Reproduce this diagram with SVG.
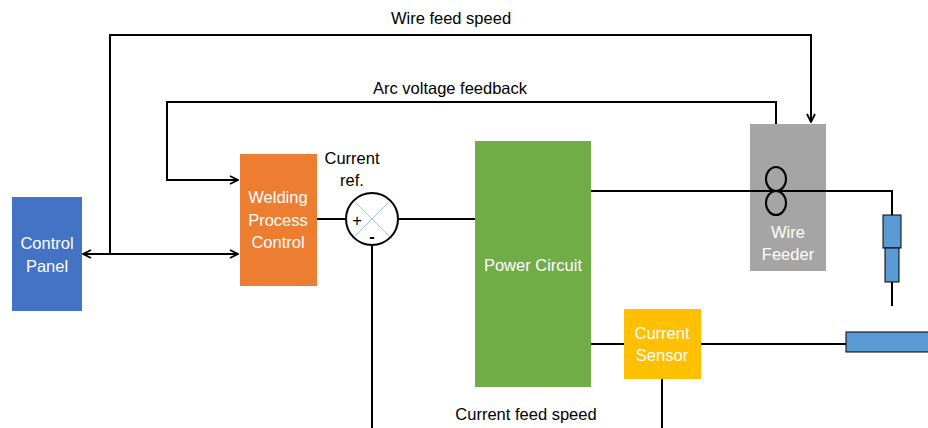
<svg xmlns="http://www.w3.org/2000/svg" width="928" height="428" viewBox="0 0 928 428">
<defs>
<style>
.ln{fill:none;stroke:#000;stroke-width:2}
.t{font-family:"Liberation Sans",Arial,sans-serif;font-size:16.5px;fill:#000;text-anchor:middle}
.w{font-family:"Liberation Sans",Arial,sans-serif;font-size:16.5px;fill:#fff;text-anchor:middle}
</style>
<marker id="ah" viewBox="0 0 10 10" refX="9" refY="5" markerWidth="10" markerHeight="10" markerUnits="userSpaceOnUse" orient="auto-start-reverse">
<path d="M1,1 L9,5 L1,9" fill="none" stroke="#000" stroke-width="1.8"/>
</marker>
</defs>
<rect width="928" height="428" fill="#fff"/>
<g id="connectors">
<polyline class="ln" points="110,254 110,35 811,35 811,122" marker-end="url(#ah)"/>
<polyline class="ln" points="776,167 776,102 167,102 167,180 238,180" marker-end="url(#ah)"/>
<line class="ln" x1="83" y1="254" x2="238" y2="254" marker-start="url(#ah)" marker-end="url(#ah)"/>
<line class="ln" x1="317" y1="219" x2="346" y2="219"/>
<line class="ln" x1="398" y1="219" x2="475" y2="219"/>
<line class="ln" x1="372" y1="245" x2="372" y2="428"/>
<polyline class="ln" points="591,191 892,191 892,215"/>
<line class="ln" x1="892" y1="282" x2="892" y2="306"/>
<line class="ln" x1="591" y1="344" x2="624" y2="344"/>
<line class="ln" x1="701" y1="344" x2="846" y2="344"/>
<line class="ln" x1="662" y1="379" x2="662" y2="428"/>
</g>
<g id="control-panel">
<rect x="12" y="197" width="70" height="114" fill="#4472C4"/>
<text class="w" x="47" y="249">Control</text>
<text class="w" x="47" y="272">Panel</text>
</g>
<g id="welding-process-control">
<rect x="240" y="154" width="77" height="132" fill="#ED7D31"/>
<text class="w" x="278" y="203">Welding</text>
<text class="w" x="278" y="226">Process</text>
<text class="w" x="278" y="248">Control</text>
</g>
<g id="summer">
<circle cx="372" cy="219" r="26" fill="#fff" stroke="#000" stroke-width="2"/>
<line x1="354" y1="201" x2="390" y2="237" stroke="#9DC3E6" stroke-width="1"/>
<line x1="390" y1="201" x2="354" y2="237" stroke="#9DC3E6" stroke-width="1"/>
<text class="t" x="357" y="226" font-size="13">+</text>
<text class="t" x="372" y="242" font-size="15" font-weight="bold">-</text>
<text class="t" x="352" y="164">Current</text>
<text class="t" x="352" y="186">ref.</text>
</g>
<g id="power-circuit">
<rect x="475" y="141" width="116" height="246" fill="#70AD47"/>
<text class="w" x="533" y="271">Power Circuit</text>
</g>
<g id="wire-feeder">
<rect x="750" y="124" width="76" height="147" fill="#A5A5A5"/>
<text class="w" x="788" y="238">Wire</text>
<text class="w" x="788" y="260">Feeder</text>
<ellipse cx="776" cy="179" rx="10" ry="12" fill="none" stroke="#000" stroke-width="2"/>
<ellipse cx="776" cy="203" rx="10" ry="12" fill="none" stroke="#000" stroke-width="2"/>
<line class="ln" x1="750" y1="191" x2="826" y2="191"/>
</g>
<g id="current-sensor">
<rect x="624" y="309" width="77" height="70" fill="#FFC000"/>
<text class="w" x="662" y="339">Current</text>
<text class="w" x="662" y="361">Sensor</text>
</g>
<g id="torch">
<rect x="883" y="215" width="18" height="33" fill="#5B9BD5" stroke="#000" stroke-width="1"/>
<rect x="885" y="248" width="14" height="34" fill="#5B9BD5" stroke="#000" stroke-width="1"/>
</g>
<g id="workpiece">
<rect x="846" y="332" width="86" height="20" fill="#5B9BD5" stroke="#000" stroke-width="1"/>
</g>
<g id="labels">
<text class="t" x="451" y="24">Wire feed speed</text>
<text class="t" x="450" y="94">Arc voltage feedback</text>
<text class="t" x="526" y="420">Current feed speed</text>
</g>
</svg>
